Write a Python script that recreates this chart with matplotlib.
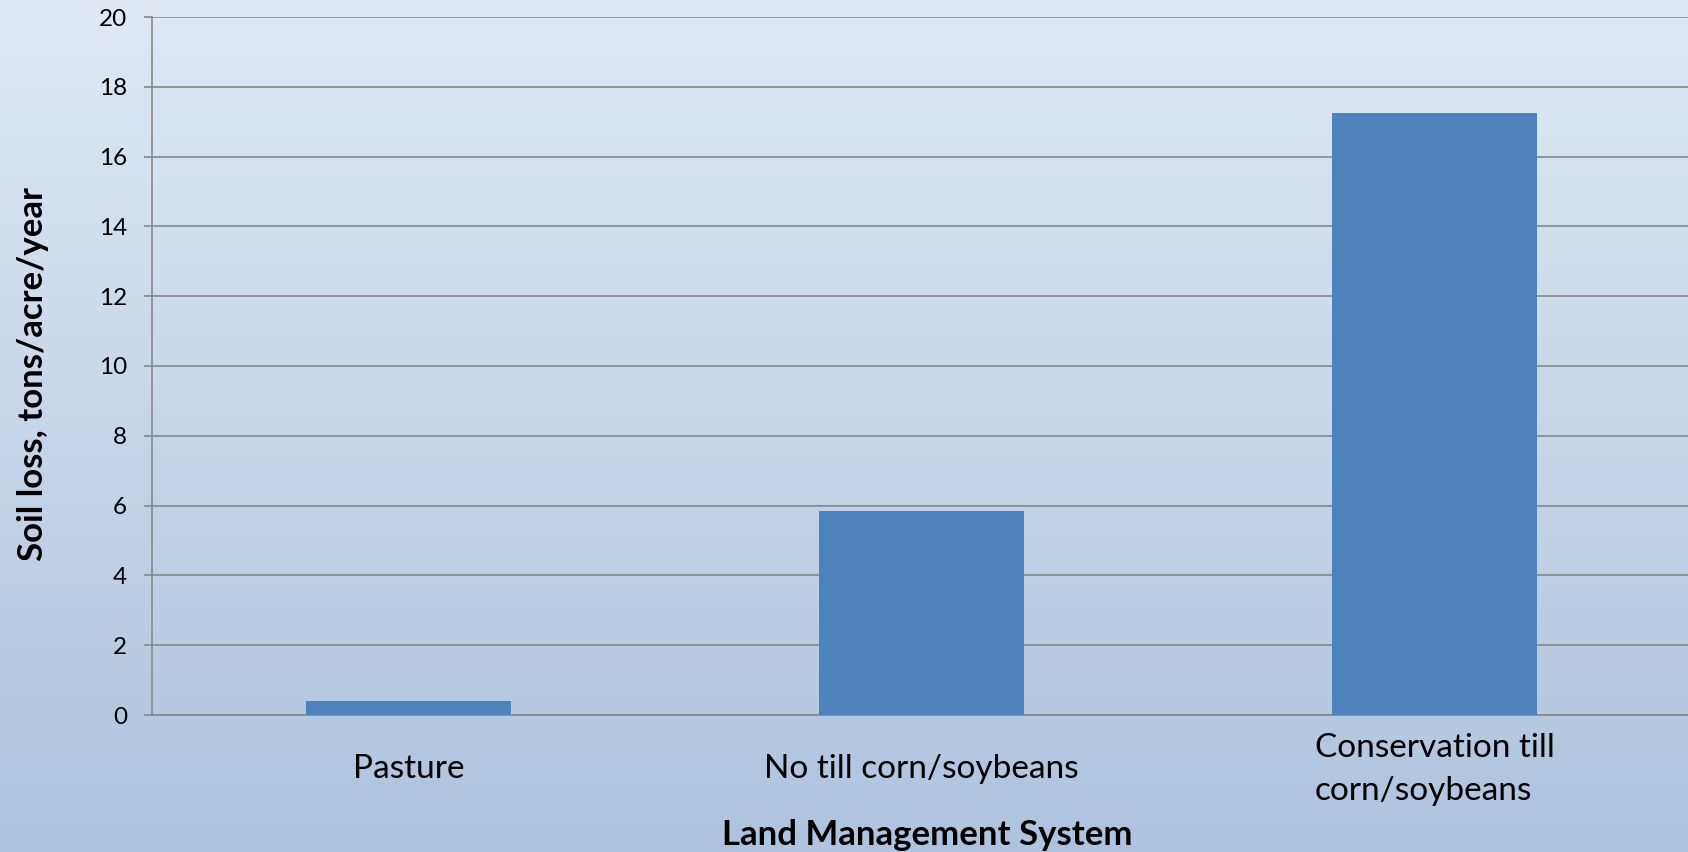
import numpy as np
import matplotlib.pyplot as plt
from matplotlib.colors import LinearSegmentedColormap

# 数据
categories = ['Pasture', 'No till corn/soybeans', 'Conservation till\ncorn/soybeans']
soil_loss = [0.4, 5.85, 17.25]
y_ticks = [0, 2, 4, 6, 8, 10, 12, 14, 16, 18, 20]

plt.rcParams['font.family'] = ['Lato', 'DejaVu Sans']

fig = plt.figure(figsize=(16.88, 8.52), dpi=100)

# 背景渐变
bg = fig.add_axes([0, 0, 1, 1], zorder=-1)
cmap = LinearSegmentedColormap.from_list('bg', ['#adc3df', '#e0e9f4'])
grad = np.linspace(0, 1, 256).reshape(-1, 1)
bg.imshow(grad, aspect='auto', cmap=cmap, origin='lower', extent=[0, 1, 0, 1])
bg.set_axis_off()

ax = fig.add_axes([152 / 1688, 137 / 852, 1539 / 1688, 698 / 852])
ax.set_facecolor('none')

x = np.arange(len(categories))
ax.bar(x, soil_loss, width=0.4, color='#4f81bd', zorder=3)

ax.set_xlim(-0.5, 2.5)
ax.set_ylim(0, 20)
ax.set_yticks(y_ticks)
ax.yaxis.grid(True, color='#878787', linewidth=1.2, zorder=0)
ax.set_axisbelow(True)

for s in ['top', 'right']:
    ax.spines[s].set_visible(False)
for s in ['left', 'bottom']:
    ax.spines[s].set_color('#878787')
    ax.spines[s].set_linewidth(1.2)

ax.tick_params(axis='y', length=6, width=1.2, color='#878787', labelsize=17.5, pad=12)
ax.tick_params(axis='x', length=0, labelsize=24, pad=39)
ax.set_xticks(x)
ax.set_xticklabels(categories)
for lbl in ax.get_xticklabels():
    lbl.set_va('center')
    lbl.set_multialignment('left')
    lbl.set_linespacing(1.55)

ax.set_xlabel('Land Management System', fontsize=25, fontweight='bold')
ax.xaxis.set_label_coords(0.5036, -0.172)
ax.xaxis.label.set_va('center')
ax.set_ylabel('Soil loss, tons/acre/year', fontsize=25, fontweight='bold')
ax.yaxis.set_label_coords(-0.077, 0.4885)
ax.yaxis.label.set_va('center')

fig.savefig('out.png', dpi=100)
